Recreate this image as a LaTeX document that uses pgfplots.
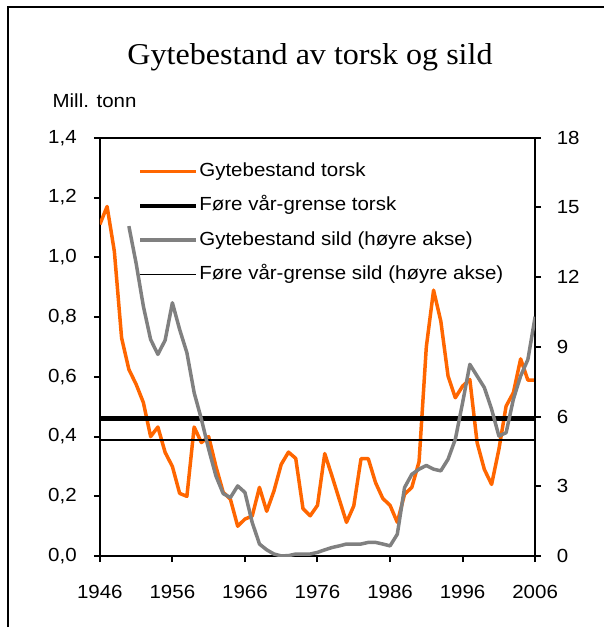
\documentclass[border=0pt]{standalone}
\usepackage{fontspec}
\setmainfont{Liberation Sans}[FakeStretch=1.08]
\newfontfamily\titlefont{Liberation Serif}[FakeStretch=1.06]
\usepackage{pgfplots}
\usepackage{pgfplotstable}
\pgfplotsset{compat=1.18}
\definecolor{torsk}{RGB}{255,102,0}
\definecolor{sild}{RGB}{128,128,128}

\pgfplotstableread{
year val
1946 1.11
1947 1.17
1948 1.02
1949 0.73
1950 0.625
1951 0.575
1952 0.514
1953 0.40
1954 0.432
1955 0.347
1956 0.30
1957 0.21
1958 0.20
1959 0.432
1960 0.38
1961 0.40
1962 0.30
1963 0.214
1964 0.19
1965 0.10
1966 0.124
1967 0.134
1968 0.23
1969 0.15
1970 0.218
1971 0.307
1972 0.348
1973 0.327
1974 0.159
1975 0.135
1976 0.17
1977 0.343
1978 0.268
1979 0.19
1980 0.113
1981 0.168
1982 0.326
1983 0.326
1984 0.246
1985 0.193
1986 0.17
1987 0.113
1988 0.207
1989 0.23
1990 0.316
1991 0.70
1992 0.89
1993 0.786
1994 0.602
1995 0.53
1996 0.569
1997 0.591
1998 0.38
1999 0.29
2000 0.24
2001 0.357
2002 0.502
2003 0.547
2004 0.66
2005 0.589
2006 0.589
}\torsk

\pgfplotstableread{
year val
1950 14.2
1951 12.6
1952 10.75
1953 9.32
1954 8.68
1955 9.29
1956 10.9
1957 9.75
1958 8.75
1959 7.03
1960 5.89
1961 4.6
1962 3.45
1963 2.69
1964 2.52
1965 3.02
1966 2.74
1967 1.45
1968 0.52
1969 0.27
1970 0.09
1971 0.01
1972 0.02
1973 0.09
1974 0.09
1975 0.09
1976 0.16
1977 0.27
1978 0.37
1979 0.44
1980 0.52
1981 0.52
1982 0.52
1983 0.59
1984 0.59
1985 0.52
1986 0.44
1987 0.94
1988 2.95
1989 3.52
1990 3.74
1991 3.9
1992 3.74
1993 3.67
1994 4.17
1995 5.03
1996 6.6
1997 8.25
1998 7.75
1999 7.25
2000 6.32
2001 5.17
2002 5.31
2003 6.75
2004 7.75
2005 8.46
2006 10.3
}\sild

\begin{document}
\begin{tikzpicture}
\begin{axis}[
  at={(100pt,71pt)}, anchor=south west,
  scale only axis, width=436pt, height=419pt,
  xmin=1946, xmax=2006, ymin=0, ymax=1.4,
  axis line style={line width=2pt},
  xtick={1946,1956,...,2006},
  ytick={0,0.2,...,1.4},
  xtick pos=bottom, ytick pos=left,
  tick align=outside,
  major tick length=6pt,
  major tick style={draw=black, line width=2pt},
  tick label style={font=\fontsize{19}{23}\selectfont, inner sep=0pt},
  /pgf/number format/assume math mode=true,
  xticklabel style={/pgf/number format/1000 sep={}, anchor=north, yshift=-23pt},
  yticklabel style={/pgf/number format/.cd, fixed, fixed zerofill, precision=1, use comma, /tikz/.cd, anchor=east, xshift=-17pt},
  legend style={at={(0.0802,0.948)}, anchor=north west, draw=none, fill=none,
    font=\fontsize{19}{23}\selectfont, row sep=14.3pt,
    nodes={inner sep=1pt, text height=14pt, text depth=4pt}},
  legend cell align=left,
  legend image code/.code={\draw[#1] (0pt,0pt) -- (56pt,0pt);},
]
\addplot[torsk, line width=3.5pt, line join=round] table[x=year,y=val]{\torsk};
\addlegendentry{Gytebestand torsk}
\addplot[black, line width=4.5pt] coordinates {(1946,0.46) (2006,0.46)};
\addlegendentry{Føre vår-grense torsk}
\addlegendimage{sild, line width=3.5pt}
\addlegendentry{Gytebestand sild (høyre akse)}
\addlegendimage{black, line width=1.5pt}
\addlegendentry{Føre vår-grense sild (høyre akse)}
\end{axis}

\begin{axis}[
  at={(100pt,71pt)}, anchor=south west,
  scale only axis, width=436pt, height=419pt,
  xmin=1946, xmax=2006, ymin=0, ymax=18,
  axis x line=none, axis y line*=right,
  y axis line style={line width=2pt},
  ytick={0,3,...,18},
  tick align=outside,
  major tick length=6pt,
  major tick style={draw=black, line width=2pt},
  tick label style={font=\fontsize{19}{23}\selectfont, inner sep=0pt},
  yticklabel style={anchor=west, xshift=15.5pt},
  /pgf/number format/assume math mode=true,
]
\addplot[black, line width=1.5pt] coordinates {(1946,5.0) (2006,5.0)};
\addplot[sild, line width=3.5pt, line join=round] table[x=year,y=val]{\sild};
\end{axis}
\path (0pt,0pt) rectangle (605pt,628pt);
\draw[line width=2pt] (8pt,0pt) -- (8pt,621pt) -- (605pt,621pt);
\node[anchor=base, inner sep=0pt, font=\titlefont\fontsize{30.3}{36}\selectfont] at (310.5pt,563pt) {Gytebestand av torsk og sild};
\node[anchor=base west, inner sep=0pt, font=\fontsize{19}{23}\selectfont] at (52.5pt,520.5pt) {Mill. tonn};
\end{tikzpicture}
\end{document}
